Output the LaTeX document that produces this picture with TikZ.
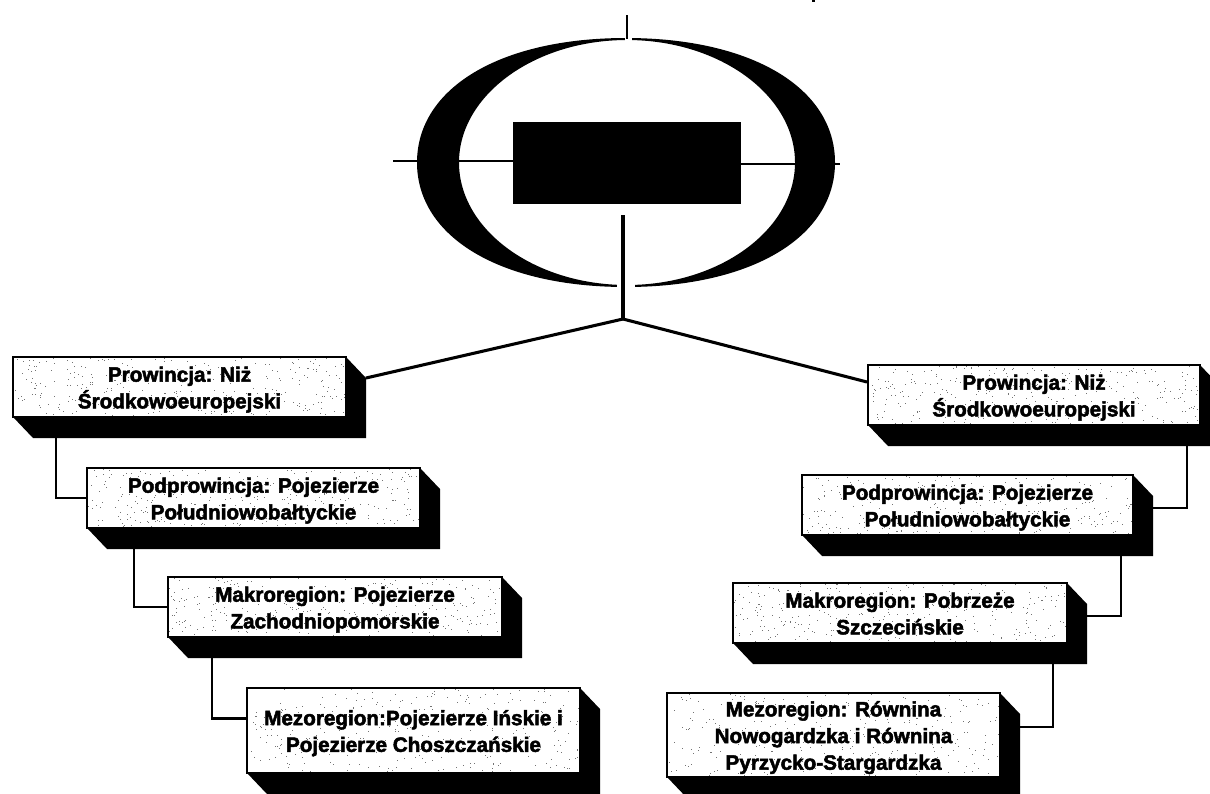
\documentclass[tikz,border=0pt]{standalone}
\usepackage{fontspec}
\setmainfont{Liberation Sans}[BoldFont={Liberation Sans Bold},BoldFeatures={FakeBold=2.4}]
\usetikzlibrary{calc}
\pgfmathsetseed{4242}
\newcommand{\speckles}[2]{%
  \foreach \i in {1,...,320}{%
    \pgfmathsetmacro\ax{rnd*#1}\pgfmathsetmacro\ay{rnd*#2}%
    \fill[black!55] ([shift={(\ax,\ay)}]path picture bounding box.north west) rectangle ++(1,1);
  }%
}
\newcommand{\slab}[6]{% name, x0, y0, x1, y1, text
  \pgfmathsetmacro\bw{#4-#2}\pgfmathsetmacro\bh{#5-#3}
  \fill[black] (#4,#3) -- ++(20,21) -- (#4+20,#5+21) -- (#2+20,#5+21) -- (#2,#5) -- cycle;
  \node[slabbox,minimum width=\bw*0.75pt,minimum height=\bh*0.75pt,
        path picture={\speckles{\bw}{\bh}}] (#1) at ({(#2+#4)/2},{(#3+#5)/2})
        {\raisebox{-2pt}[\height][\depth]{\begin{tabular}{@{}c@{}}#6\end{tabular}}};
}
% closed oval of four Bezier arcs; #5 sets how full the shoulders are
\newcommand{\fulloval}[5]{% cx, cy, rx, ry, kappa
  (#1-#3,#2) .. controls (#1-#3,#2-#5*#4) and (#1-#5*#3,#2-#4) .. (#1,#2-#4)
  .. controls (#1+#5*#3,#2-#4) and (#1+#3,#2-#5*#4) .. (#1+#3,#2)
  .. controls (#1+#3,#2+#5*#4) and (#1+#5*#3,#2+#4) .. (#1,#2+#4)
  .. controls (#1-#5*#3,#2+#4) and (#1-#3,#2+#5*#4) .. (#1-#3,#2) -- cycle
}
\tikzset{
  slabbox/.style={draw=black,line width=1.5pt,fill=white,inner sep=0pt,
    font=\fontsize{15.5}{20}\selectfont\bfseries,text=black},
  conn/.style={line width=2.1pt,black},
  thin line/.style={line width=1.3pt,black},
  hubline/.style={line width=2.3pt,black},
}
\begin{document}
\begin{tikzpicture}[x=0.75pt,y=-0.75pt]
\useasboundingbox (0,0) rectangle (1210,793);
\fill[white] (0,0) rectangle (1210,793);
% crescents
\fill[black,even odd rule] \fulloval{626}{162.5}{209}{124.5}{0.6} \fulloval{627}{162.5}{168}{122.5}{0.55};
\fill[white] (625,30) rectangle (632,46);
\fill[white] (617,280) rectangle (635,292);
\fill[black] (812,0) rectangle (815,2);
% central block
\node[fill=black,minimum width=228*0.75pt,minimum height=82*0.75pt,inner sep=0pt] (core) at (627,163) {};
\coordinate (tt) at (627,15);
\coordinate (tb) at (627,39);
\coordinate (tl) at (393,161);
\coordinate (tr) at (840,164);
\coordinate (hub) at (623,319);
\coordinate (stem) at (623,215);
\draw[thin line] (tt) -- (tb);
\draw[thin line] (tl) -- (core.west |- tl);
\draw[thin line] (core.east |- tr) -- (tr);
\draw[line width=3pt,black] (stem) -- (hub);
% boxes
\slab{L1}{13}{357}{346}{417}{Prowincja: Niż\\Środkowoeuropejski}
\slab{L2}{87}{468}{420}{528}{Podprowincja: Pojezierze\\Południowobałtyckie}
\slab{L3}{168}{577}{502}{637}{Makroregion: Pojezierze\\Zachodniopomorskie}
\slab{L4}{247}{688}{580}{773}{Mezoregion:Pojezierze Ińskie i\\Pojezierze Choszczańskie}
\slab{R1}{868}{365}{1200}{425}{Prowincja: Niż\\Środkowoeuropejski}
\slab{R2}{802}{475}{1133}{535}{Podprowincja: Pojezierze\\Południowobałtyckie}
\slab{R3}{733}{583}{1067}{643}{Makroregion: Pobrzeże\\Szczecińskie}
\slab{R4}{667}{693}{1000}{777}{Mezoregion: Równina\\Nowogardzka i Równina\\Pyrzycko-Stargardzka}
% connectors
\draw[hubline] (hub) -- ($(L1.east)+(19,-9)$);
\draw[hubline] (hub) -- ($(R1.west)+(0,-13)$);
\draw[conn] ($(L1.south west)+(44,0)$) |- (L2.west);
\draw[conn] ($(L2.south west)+(48,0)$) |- (L3.west);
\draw[conn] ($(L3.south west)+(45,0)$) |- ($(L4.west)+(0,-12)$);
\draw[conn] ($(R1.south east)+(-14,0)$) |- ($(R2.east)+(0,3)$);
\draw[conn] ($(R2.south east)+(-13,0)$) |- ($(R3.east)+(0,3)$);
\draw[conn] ($(R3.south east)+(-15,0)$) |- ($(R4.east)+(0,-8)$);
\end{tikzpicture}
\end{document}
